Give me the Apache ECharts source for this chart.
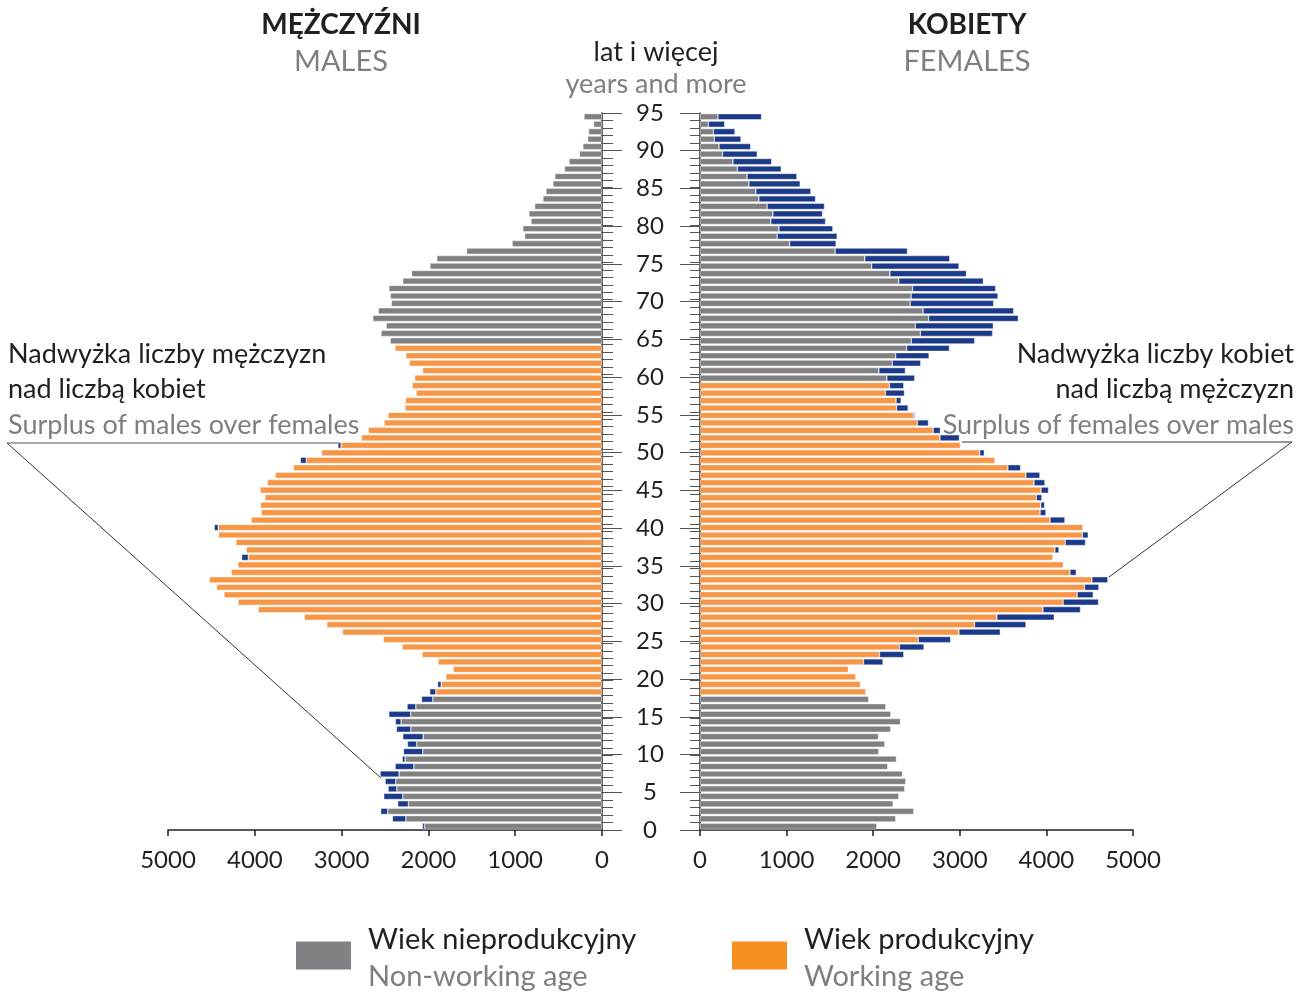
<!DOCTYPE html>
<html>
<head>
<meta charset="utf-8">
<script src="https://cdn.jsdelivr.net/npm/echarts@6/dist/echarts.min.js"></script>
<style>
html,body{margin:0;padding:0;background:#fff;}
#chart{width:1309px;height:993px;}
</style>
</head>
<body>
<div id="chart"></div>
<script>
// Ages 0..95 (95 = "95 lat i więcej")
const ages = Array.from({length: 96}, (_, i) => String(i));
// Population, males (age 0 .. 95)
const males = [
  2068, 2414, 2549, 2353, 2514, 2464, 2498, 2556, 2383, 2302,
  2287, 2242, 2295, 2368, 2380, 2456, 2245, 2079, 1984, 1894,
  1800, 1715, 1888, 2072, 2302, 2520, 2990, 3170, 3428, 3960,
  4193, 4355, 4440, 4525, 4272, 4195, 4152, 4098, 4217, 4416,
  4467, 4042, 3927, 3935, 3883, 3938, 3856, 3763, 3555, 3475,
  3230, 3042, 2771, 2692, 2510, 2465, 2270, 2264, 2141, 2187,
  2158, 2066, 2220, 2260, 2385, 2440, 2545, 2486, 2640, 2576,
  2427, 2438, 2455, 2295, 2193, 1982, 1903, 1560, 1035, 891,
  912, 818, 842, 775, 680, 645, 565, 543, 432, 380,
  260, 220, 165, 155, 97, 207
];
// Population, females (age 0 .. 95)
const females = [
  2042, 2260, 2468, 2230, 2295, 2364, 2376, 2338, 2168, 2268,
  2065, 2134, 2061, 2203, 2315, 2203, 2145, 1949, 1915, 1853,
  1805, 1720, 2114, 2353, 2587, 2895, 3468, 3764, 4091, 4394,
  4602, 4541, 4606, 4710, 4345, 4200, 4075, 4145, 4452, 4483,
  4421, 4214, 3995, 3979, 3948, 4025, 3983, 3925, 3702, 3406,
  3283, 3007, 2995, 2776, 2638, 2480, 2403, 2322, 2361, 2353,
  2480, 2372, 2549, 2645, 2880, 3172, 3379, 3387, 3676, 3622,
  3391, 3441, 3414, 3272, 3076, 2991, 2884, 2395, 1572, 1584,
  1534, 1450, 1415, 1438, 1334, 1280, 1157, 1119, 938, 827,
  661, 585, 473, 404, 285, 711
];
// Working-age ranges
const maleWorking = [18, 64];
const femaleWorking = [18, 59];
const xTicks = [0, 1000, 2000, 3000, 4000, 5000];

const GRAY = '#808080', ORANGE = '#F79646', NAVY = '#1c3a8a';
const DARK = '#231f20', LGRAY = '#7f7f7f';
const FONT = 'Lato, "Open Sans", sans-serif';

function baseData(own, other, range) {
  return own.map((v, i) => ({
    value: Math.min(v, other[i]),
    itemStyle: {color: (i >= range[0] && i <= range[1]) ? ORANGE : GRAY}
  }));
}
function surplusData(own, other) {
  return own.map((v, i) => (v - other[i] > 0 ? v - other[i] : '-'));
}

const barCommon = {
  type: 'bar', barWidth: 6.2, silent: true,
  itemStyle: {borderColor: 'rgba(255,255,255,0.85)', borderWidth: 0.5}
};

const chart = echarts.init(document.getElementById('chart'), null, {renderer: 'canvas'});

const xLabel = {fontSize: 24, color: DARK, margin: 18, fontFamily: FONT, formatter: v => String(v)};
const legendRich = {
  a: {fontSize: 29, color: DARK, lineHeight: 36, padding: [4, 0, 0, 12], fontFamily: FONT},
  b: {fontSize: 29, color: LGRAY, lineHeight: 36, padding: [6, 0, 0, 12], fontFamily: FONT}
};
const gridTop = 113, gridH = 717;
const option = {
  animation: false,
  backgroundColor: '#fff',
  textStyle: {fontFamily: FONT},
  grid: [
    {left: 168, top: gridTop, width: 434, height: gridH},
    {left: 700, top: gridTop, width: 433, height: gridH}
  ],
  xAxis: [
    {type: 'value', gridIndex: 0, inverse: true, min: xTicks[0], max: xTicks[xTicks.length - 1], interval: 1000,
     axisLine: {show: true, lineStyle: {color: DARK, width: 1.5}},
     axisTick: {show: true, length: 6, lineStyle: {color: DARK, width: 1.5}},
     axisLabel: xLabel, splitLine: {show: false}},
    {type: 'value', gridIndex: 1, min: xTicks[0], max: xTicks[xTicks.length - 1], interval: 1000,
     axisLine: {show: true, lineStyle: {color: DARK, width: 1.5}},
     axisTick: {show: true, length: 6, lineStyle: {color: DARK, width: 1.5}},
     axisLabel: xLabel, splitLine: {show: false}}
  ],
  yAxis: [
    {type: 'category', gridIndex: 0, data: ages, position: 'right',
     axisLine: {show: true, lineStyle: {color: DARK, width: 1.5}},
     axisTick: {show: true, length: 11, interval: 0, lineStyle: {color: '#555', width: 1}},
     axisLabel: {show: false}},
    {type: 'value', gridIndex: 0, min: 0, max: 95, interval: 5, position: 'right',
     axisLine: {show: false},
     axisTick: {show: true, length: 20, lineStyle: {color: '#555', width: 1}},
     axisLabel: {show: false}, splitLine: {show: false}},
    {type: 'category', gridIndex: 1, data: ages, position: 'left',
     axisLine: {show: true, lineStyle: {color: DARK, width: 1.5}},
     axisTick: {show: true, length: 10, interval: 0, lineStyle: {color: '#555', width: 1}},
     axisLabel: {show: false}},
    {type: 'value', gridIndex: 1, min: 0, max: 95, interval: 5, position: 'left',
     axisLine: {show: false},
     axisTick: {show: true, length: 20, lineStyle: {color: '#555', width: 1}},
     axisLabel: {show: true, fontSize: 24, color: DARK, margin: 50, align: 'center', fontFamily: FONT},
     splitLine: {show: false}}
  ],
  legend: [
    {data: ['Wiek nieprodukcyjny'], left: 296, top: 921, padding: 0, selectedMode: false,
     icon: 'rect', itemWidth: 55, itemHeight: 28,
     formatter: () => '{a|Wiek nieprodukcyjny}\n{b|Non-working age}',
     textStyle: {rich: legendRich}},
    {data: ['Wiek produkcyjny'], left: 732, top: 921, padding: 0, selectedMode: false,
     icon: 'rect', itemWidth: 55, itemHeight: 28,
     formatter: () => '{a|Wiek produkcyjny}\n{b|Working age}',
     textStyle: {rich: legendRich}}
  ],
  series: [
    Object.assign({}, barCommon, {name: 'Mężczyźni', xAxisIndex: 0, yAxisIndex: 0, stack: 'm',
      data: baseData(males, females, maleWorking)}),
    Object.assign({}, barCommon, {name: 'Nadwyżka mężczyzn', xAxisIndex: 0, yAxisIndex: 0, stack: 'm',
      data: surplusData(males, females), itemStyle: {color: NAVY, borderColor: 'rgba(255,255,255,0.85)', borderWidth: 0.5}}),
    Object.assign({}, barCommon, {name: 'Kobiety', xAxisIndex: 1, yAxisIndex: 2, stack: 'f',
      data: baseData(females, males, femaleWorking)}),
    Object.assign({}, barCommon, {name: 'Nadwyżka kobiet', xAxisIndex: 1, yAxisIndex: 2, stack: 'f',
      data: surplusData(females, males), itemStyle: {color: NAVY, borderColor: 'rgba(255,255,255,0.85)', borderWidth: 0.5}}),
    {name: 'Wiek nieprodukcyjny', type: 'line', xAxisIndex: 0, yAxisIndex: 1, data: [], color: '#818285', itemStyle: {color: '#818285'}},
    {name: 'Wiek produkcyjny', type: 'line', xAxisIndex: 0, yAxisIndex: 1, data: [], color: '#F7901E', itemStyle: {color: '#F7901E'}}
  ],
  graphic: [
    {type: 'text', x: 341, y: 25, style: {text: 'MĘŻCZYŹNI', textAlign: 'center', textVerticalAlign: 'middle', font: 'bold 28px ' + FONT, fill: DARK}},
    {type: 'text', x: 341, y: 62, style: {text: 'MALES', textAlign: 'center', textVerticalAlign: 'middle', font: '29px ' + FONT, fill: LGRAY}},
    {type: 'text', x: 967, y: 25, style: {text: 'KOBIETY', textAlign: 'center', textVerticalAlign: 'middle', font: 'bold 28px ' + FONT, fill: DARK}},
    {type: 'text', x: 967, y: 62, style: {text: 'FEMALES', textAlign: 'center', textVerticalAlign: 'middle', font: '29px ' + FONT, fill: LGRAY}},
    {type: 'text', x: 656, y: 52, style: {text: 'lat i więcej', textAlign: 'center', textVerticalAlign: 'middle', font: '27px ' + FONT, fill: DARK}},
    {type: 'text', x: 656, y: 84, style: {text: 'years and more', textAlign: 'center', textVerticalAlign: 'middle', font: '27px ' + FONT, fill: LGRAY}},
    {type: 'text', x: 8, y: 354, style: {text: 'Nadwyżka liczby mężczyzn', textAlign: 'left', textVerticalAlign: 'middle', font: '27px ' + FONT, fill: DARK}},
    {type: 'text', x: 8, y: 389, style: {text: 'nad liczbą kobiet', textAlign: 'left', textVerticalAlign: 'middle', font: '27px ' + FONT, fill: DARK}},
    {type: 'text', x: 8, y: 425, style: {text: 'Surplus of males over females', textAlign: 'left', textVerticalAlign: 'middle', font: '27px ' + FONT, fill: LGRAY}},
    {type: 'text', x: 1294, y: 354, style: {text: 'Nadwyżka liczby kobiet', textAlign: 'right', textVerticalAlign: 'middle', font: '27px ' + FONT, fill: DARK}},
    {type: 'text', x: 1294, y: 389, style: {text: 'nad liczbą mężczyzn', textAlign: 'right', textVerticalAlign: 'middle', font: '27px ' + FONT, fill: DARK}},
    {type: 'text', x: 1294, y: 425, style: {text: 'Surplus of females over males', textAlign: 'right', textVerticalAlign: 'middle', font: '27px ' + FONT, fill: LGRAY}},
    {type: 'line', shape: {x1: 7, y1: 443, x2: 339, y2: 443}, style: {stroke: '#8a8a8a', lineWidth: 1.5}},
    {type: 'line', shape: {x1: 7, y1: 443, x2: 381, y2: 778}, style: {stroke: '#333', lineWidth: 1}},
    {type: 'line', shape: {x1: 962, y1: 442, x2: 1292, y2: 442}, style: {stroke: '#333', lineWidth: 1.2}},
    {type: 'line', shape: {x1: 1292, y1: 442, x2: 1109, y2: 577}, style: {stroke: '#333', lineWidth: 1}}
  ]
};
chart.setOption(option);
</script>
</body>
</html>
